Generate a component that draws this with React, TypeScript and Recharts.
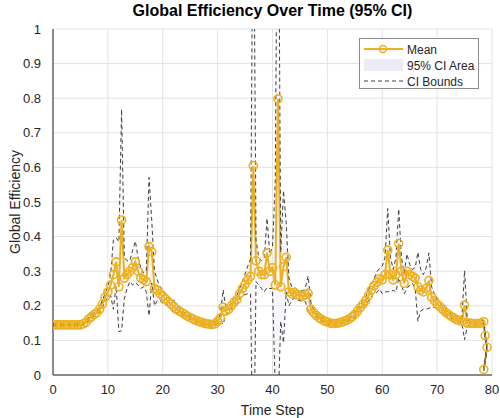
import React from "react";
import {
  ComposedChart,
  Line,
  Area,
  XAxis,
  YAxis,
  CartesianGrid,
} from "recharts";

// mean global efficiency, one value every 0.5 time steps from 0 to 78.5
const meanValues = [
  0.145, 0.145, 0.145, 0.145, 0.145, 0.145, 0.145, 0.145, 0.145, 0.145, 0.145,
  0.148, 0.152, 0.162, 0.168, 0.175, 0.18, 0.19, 0.205, 0.225, 0.24,
  0.26, 0.29, 0.327, 0.255, 0.448, 0.28, 0.29, 0.3, 0.31, 0.327,
  0.3, 0.28, 0.275, 0.27, 0.371, 0.356, 0.25, 0.245, 0.235, 0.228,
  0.22, 0.212, 0.205, 0.198, 0.19, 0.185, 0.18, 0.175, 0.17, 0.166,
  0.162, 0.158, 0.155, 0.152, 0.15, 0.148, 0.147, 0.146, 0.148, 0.155,
  0.165, 0.196, 0.185, 0.19, 0.2, 0.21, 0.218, 0.235, 0.25, 0.262,
  0.275, 0.285, 0.605, 0.33, 0.3, 0.29, 0.29, 0.353, 0.3, 0.31,
  0.26, 0.798, 0.255, 0.313, 0.34, 0.24, 0.235, 0.238, 0.232, 0.23,
  0.228, 0.232, 0.236, 0.19, 0.18, 0.172, 0.165, 0.16, 0.156, 0.153,
  0.15, 0.149, 0.149, 0.15, 0.152, 0.155, 0.158, 0.162, 0.168, 0.175,
  0.185, 0.195, 0.205, 0.215, 0.23, 0.245, 0.258, 0.268, 0.278, 0.275,
  0.29, 0.361, 0.29, 0.275, 0.29, 0.38, 0.3, 0.265, 0.3, 0.29,
  0.285, 0.28, 0.255, 0.245, 0.24, 0.25, 0.273, 0.225, 0.215, 0.205,
  0.198, 0.19, 0.182, 0.175, 0.17, 0.165, 0.16, 0.158, 0.155, 0.202,
  0.15, 0.15, 0.149, 0.149, 0.149, 0.15, 0.154,
];

// the last few samples, as they sit in the picture
const tailSteps = [78.75, 79.1, 78.5];
const tailMean = [0.114, 0.08, 0.016];

// half width of the 95% CI at each sample (regular part, then tail)
const ciHalfWidth = [
  0.003, 0.003, 0.003, 0.003, 0.003, 0.003, 0.003, 0.003, 0.003, 0.003, 0.003,
  0.003, 0.004, 0.005, 0.005, 0.006, 0.006, 0.008, 0.01, 0.012, 0.015,
  0.03, 0.1, 0.07, 0.13, 0.32, 0.06, 0.04, 0.03, 0.05, 0.06,
  0.04, 0.03, 0.02, 0.03, 0.2, 0.09, 0.05, 0.03, 0.02, 0.02,
  0.015, 0.01, 0.015, 0.02, 0.01, 0.008, 0.006, 0.005, 0.005, 0.005,
  0.005, 0.005, 0.005, 0.005, 0.005, 0.005, 0.005, 0.005, 0.005, 0.006,
  0.01, 0.05, 0.01, 0.008, 0.008, 0.01, 0.012, 0.015, 0.02, 0.03,
  0.04, 0.05, 0.95, 0.06, 0.04, 0.04, 0.05, 0.1, 0.05, 0.06,
  0.3, 0.9, 0.1, 0.22, 0.1, 0.04, 0.02, 0.015, 0.015, 0.015,
  0.015, 0.02, 0.05, 0.02, 0.008, 0.006, 0.005, 0.005, 0.005, 0.005,
  0.005, 0.005, 0.005, 0.005, 0.005, 0.005, 0.005, 0.005, 0.006, 0.008,
  0.008, 0.01, 0.01, 0.012, 0.015, 0.02, 0.02, 0.03, 0.03, 0.04,
  0.05, 0.12, 0.05, 0.03, 0.05, 0.1, 0.04, 0.03, 0.05, 0.03,
  0.02, 0.03, 0.1, 0.06, 0.05, 0.06, 0.08, 0.03, 0.02, 0.012,
  0.01, 0.008, 0.008, 0.008, 0.006, 0.006, 0.006, 0.005, 0.005, 0.1,
  0.01, 0.005, 0.005, 0.005, 0.005, 0.005, 0.005,
  0.01, 0.01, 0.005,
];

const xTicks = [0, 10, 20, 30, 40, 50, 60, 70, 80];
const yTicks = [0, 0.1, 0.2, 0.3, 0.4, 0.5, 0.6, 0.7, 0.8, 0.9, 1];

const steps = [...meanValues.map((_, i) => i * 0.5), ...tailSteps];
const means = [...meanValues, ...tailMean];

const data = steps.map((t, i) => {
  const m = means[i];
  const h = ciHalfWidth[i];
  return { t, mean: m, upper: m + h, lower: m - h, ci: [m - h, m + h] };
});

const FONT = "'Liberation Sans', Arial, Helvetica, sans-serif";
const GOLD = "#EDB120";

const LegendBox = () => (
  <div
    style={{
      position: "absolute",
      left: 359,
      top: 38,
      width: 118,
      height: 49,
      border: "1px solid #8c8c8c",
      background: "#fff",
      fontFamily: FONT,
      fontSize: 12,
    }}
  >
    <svg width={118} height={49} style={{ display: "block" }}>
      <g fill="#262626">
        <line x1={4} x2={43} y1={10} y2={10} stroke={GOLD} strokeWidth={2} />
        <circle cx={23} cy={10} r={3.5} fill="none" stroke={GOLD} strokeWidth={1.5} />
        <text x={47} y={14.5}>Mean</text>
        <rect x={4} y={20} width={39} height={12} fill="#ececf6" />
        <text x={47} y={30.5}>95% CI Area</text>
        <line x1={4} x2={43} y1={42} y2={42} stroke="#404040" strokeWidth={1} strokeDasharray="4 3" />
        <text x={47} y={46.5}>CI Bounds</text>
      </g>
    </svg>
  </div>
);

export default function App() {
  return (
    <div style={{ position: "absolute", left: 0, top: 0, width: 500, height: 418, background: "#fff" }}>
      <ComposedChart
        width={500}
        height={418}
        data={data}
        margin={{ top: 29, right: 8, bottom: 0, left: 0 }}
      >
        <CartesianGrid stroke="#e3e3e3" strokeWidth={1} />
        <XAxis
          dataKey="t"
          type="number"
          domain={[0, 80]}
          ticks={xTicks}
          height={43}
          allowDataOverflow
          tickLine={false}
          stroke="#262626"
          tick={{ fontFamily: FONT, fontSize: 13, fill: "#262626" }}
          tickMargin={4}
          label={{
            value: "Time Step",
            position: "insideBottom",
            offset: 3,
            style: { fontFamily: FONT, fontSize: 14, fill: "#262626" },
          }}
        />
        <YAxis
          type="number"
          domain={[0, 1]}
          ticks={yTicks}
          width={53}
          allowDataOverflow
          tickLine={false}
          stroke="#262626"
          tick={{ fontFamily: FONT, fontSize: 13, fill: "#262626" }}
          tickMargin={6}
          label={{
            value: "Global Efficiency",
            angle: -90,
            position: "insideLeft",
            dx: 10,
            style: { fontFamily: FONT, fontSize: 14, fill: "#262626", textAnchor: "middle" },
          }}
        />
        <Area
          dataKey="ci"
          stroke="none"
          fill="#e6e6f4"
          fillOpacity={0.35}
          isAnimationActive={false}
        />
        <Line
          dataKey="mean"
          stroke={GOLD}
          strokeWidth={2}
          dot={{ r: 4, stroke: GOLD, strokeWidth: 1.6, fill: "none" }}
          isAnimationActive={false}
        />
        <Line
          dataKey="upper"
          stroke="#404040"
          strokeWidth={1}
          strokeDasharray="4 3"
          dot={false}
          isAnimationActive={false}
        />
        <Line
          dataKey="lower"
          stroke="#404040"
          strokeWidth={1}
          strokeDasharray="4 3"
          dot={false}
          isAnimationActive={false}
        />
      </ComposedChart>
      <div
        style={{
          position: "absolute",
          top: 2,
          left: 53,
          width: 439,
          textAlign: "center",
          fontFamily: FONT,
          fontWeight: "bold",
          fontSize: 16,
          color: "#000",
        }}
      >
        Global Efficiency Over Time (95% CI)
      </div>
      <LegendBox />
    </div>
  );
}
